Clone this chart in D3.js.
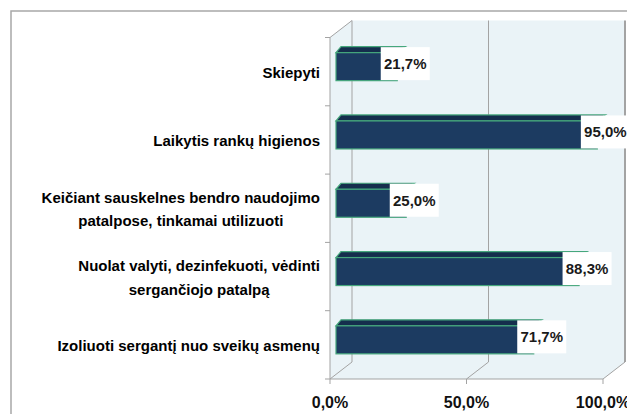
<!DOCTYPE html>
<html>
<head>
<meta charset="utf-8">
<script src="https://cdn.jsdelivr.net/npm/d3@7"></script>
<style>
  body { margin: 0; background: #fff; }
  svg { display: block; }
</style>
</head>
<body>
<svg id="chart"></svg>
<script>
// Chart data
const categories = ["Skiepyti", "Laikytis rankų higienos", "Keičiant sauskelnes", "Nuolat valyti", "Izoliuoti sergantį"];
const categoryLines = [
    ["Skiepyti"],
    ["Laikytis rankų higienos"],
    ["Keičiant sauskelnes bendro naudojimo", "patalpose, tinkamai utilizuoti"],
    ["Nuolat valyti, dezinfekuoti, vėdinti", "sergančiojo patalpą"],
    ["Izoliuoti sergantį nuo sveikų asmenų"]
];
const values = [21.7, 95.0, 25.0, 88.3, 71.7];
const ticks = [0, 50, 100];
const tickLabels = ["0,0%", "50,0%", "100,0%"];

const width = 627, height = 414;
const depthX = 22, depthY = -17;   // 3D wall depth
const barDX = 6, barDY = -5;       // bar position inside the depth

const svg = d3.select("#chart")
    .attr("width", width)
    .attr("height", height)
    .attr("viewBox", [0, 0, width, height]);

const x = d3.scaleLinear().domain([0, 100]).range([330, 603]);
const y = d3.scaleBand().domain(categories).range([37.5, 379]).paddingInner(0.59).paddingOuter(0.295);
const step = y.step();
const yTop = 37.5, yBottom = 379;

const wallFill = "#eaf3f7";
const gridColor = "#a3a3a3";

// outer frame (the image is cropped on the right and bottom)
svg.append("rect")
    .attr("x", 11).attr("y", 11)
    .attr("width", 800).attr("height", 600)
    .attr("fill", "none")
    .attr("stroke", "#a8a8a8")
    .attr("stroke-width", 1.5);

// walls
const x0 = x(0), x1 = x(100);
svg.append("rect")
    .attr("x", x0 + depthX).attr("y", yTop + depthY)
    .attr("width", x1 - x0).attr("height", yBottom - yTop)
    .attr("fill", wallFill);
svg.append("path")
    .attr("d", `M${x0},${yTop}L${x0 + depthX},${yTop + depthY}L${x0 + depthX},${yBottom + depthY}L${x0},${yBottom}Z`)
    .attr("fill", wallFill);
svg.append("path")
    .attr("d", `M${x0},${yBottom}L${x0 + depthX},${yBottom + depthY}L${x1 + depthX},${yBottom + depthY}L${x1},${yBottom}Z`)
    .attr("fill", wallFill);

// gridlines on back wall and floor
const grid = svg.append("g").attr("stroke", gridColor).attr("fill", "none");
grid.selectAll(".gv")
    .data(ticks)
    .join("line")
    .attr("x1", d => x(d) + depthX).attr("x2", d => x(d) + depthX)
    .attr("y1", yTop + depthY).attr("y2", yBottom + depthY)
    .attr("stroke-width", d => d === 100 ? 2 : 1);
grid.selectAll(".gf")
    .data(ticks)
    .join("path")
    .attr("class", "gf")
    .attr("d", d => `M${x(d) + depthX},${yBottom + depthY}L${x(d)},${yBottom}L${x(d)},${yBottom + 5}`);

// axes
grid.append("path").attr("d", `M${x0 + depthX},${yTop + depthY}L${x0},${yTop}L${x0},${yBottom}L${x1},${yBottom}`);
grid.selectAll(".ty")
    .data(categories.concat(["end"]))
    .join("line")
    .attr("x1", x0 - 5).attr("x2", x0)
    .attr("y1", (d, i) => yTop + i * step).attr("y2", (d, i) => yTop + i * step);

// bars
const bars = svg.append("g")
    .selectAll("g")
    .data(values)
    .join("g")
    .attr("transform", (d, i) => `translate(${barDX},${y(categories[i]) + barDY})`);

const bh = y.bandwidth();
bars.append("path")
    .attr("d", d => `M${x0},${0}L${x0 + 5},${-6}L${x(d) + 10},${-6}L${x(d)},${0}Z`)
    .attr("fill", "#152e4d")
    .attr("stroke", "#45a77c")
    .attr("stroke-width", 1.2);
bars.append("rect")
    .attr("x", x0).attr("y", 0)
    .attr("width", d => x(d) - x0 + 2).attr("height", bh)
    .attr("fill", "#1c3b61")
    .attr("stroke", "#45a77c")
    .attr("stroke-width", 1.2);

// value labels
const lw = 49, lh = 33;
bars.append("rect")
    .attr("x", d => x(d) + 10 - lw / 2)
    .attr("y", (bh - 6) / 2 - lh / 2)
    .attr("width", lw).attr("height", lh)
    .attr("fill", "#fff");
bars.append("text")
    .attr("x", d => x(d) + 10)
    .attr("y", (bh - 6) / 2)
    .attr("dy", "0.36em")
    .attr("text-anchor", "middle")
    .attr("font-family", "Liberation Sans, Arial, sans-serif")
    .attr("font-weight", "bold")
    .attr("font-size", 15)
    .attr("fill", "#1a1a1a")
    .text(d => d.toFixed(1).replace(".", ",") + "%");

// category labels: lines centred on each other, block right-aligned at 320
const lineH = 23.5;
const labels = svg.append("g")
    .attr("font-family", "Liberation Sans, Arial, sans-serif")
    .attr("font-weight", "bold")
    .attr("font-size", 15)
    .attr("fill", "#000");
categoryLines.forEach((lines, i) => {
    const cy = y(categories[i]) + bh / 2 + 1;
    const t = labels.append("text").attr("text-anchor", "middle");
    lines.forEach((ln, j) => {
        t.append("tspan")
            .attr("x", 0)
            .attr("y", cy + (j - (lines.length - 1) / 2) * lineH)
            .attr("dy", "0.35em")
            .text(ln);
    });
    const w = t.node().getBBox().width;
    t.selectAll("tspan").attr("x", 320 - w / 2);
});

// x tick labels
svg.append("g")
    .attr("font-family", "Liberation Sans, Arial, sans-serif")
    .attr("font-weight", "bold")
    .attr("font-size", 16)
    .attr("fill", "#111")
    .attr("text-anchor", "middle")
    .selectAll("text")
    .data(ticks)
    .join("text")
    .attr("x", d => x(d))
    .attr("y", 402)
    .attr("dy", "0.35em")
    .text((d, i) => tickLabels[i]);
</script>
</body>
</html>
